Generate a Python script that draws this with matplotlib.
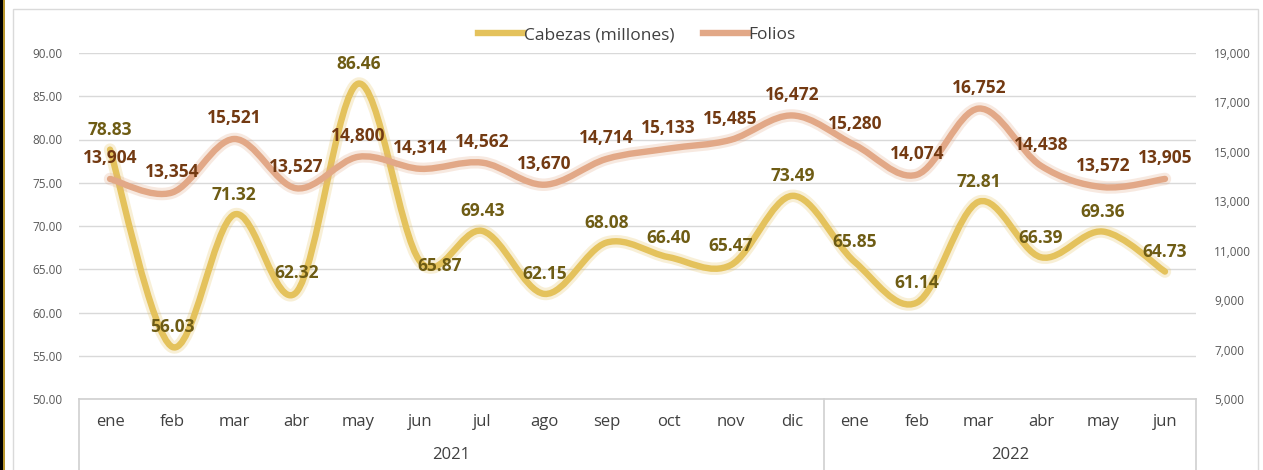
import numpy as np
import matplotlib
matplotlib.use("Agg")
import matplotlib.pyplot as plt
import matplotlib.patheffects as pe
from matplotlib.path import Path
from matplotlib.patches import PathPatch, Rectangle
from matplotlib.lines import Line2D
from matplotlib.ticker import FuncFormatter

plt.rcParams['font.family'] = ['Open Sans', 'DejaVu Sans']

# data
meses = ['ene', 'feb', 'mar', 'abr', 'may', 'jun', 'jul', 'ago', 'sep', 'oct', 'nov', 'dic',
         'ene', 'feb', 'mar', 'abr', 'may', 'jun']
anios = ['2021', '2022']
meses_por_anio = [12, 6]
cabezas = [78.83, 56.03, 71.32, 62.32, 86.46, 65.87, 69.43, 62.15, 68.08, 66.40, 65.47, 73.49,
           65.85, 61.14, 72.81, 66.39, 69.36, 64.73]
folios = [13904, 13354, 15521, 13527, 14800, 14314, 14562, 13670, 14714, 15133, 15485, 16472,
          15280, 14074, 16752, 14438, 13572, 13905]

c_cab = '#E4C25C'
c_fol = '#E2A887'
c_cab_txt = '#6E5C14'
c_fol_txt = '#733A12'


def smooth_path(x, y):
    # Catmull-Rom style bezier through every point (like Excel "smoothed line")
    x = np.asarray(x, float)
    y = np.asarray(y, float)
    n = len(x)
    verts = [(x[0], y[0])]
    codes = [Path.MOVETO]
    for i in range(n - 1):
        p0 = np.array([x[max(i - 1, 0)], y[max(i - 1, 0)]])
        p1 = np.array([x[i], y[i]])
        p2 = np.array([x[i + 1], y[i + 1]])
        p3 = np.array([x[min(i + 2, n - 1)], y[min(i + 2, n - 1)]])
        c1 = p1 + (p2 - p0) / 6.0
        c2 = p2 - (p3 - p1) / 6.0
        verts += [tuple(c1), tuple(c2), tuple(p2)]
        codes += [Path.CURVE4] * 3
    return Path(verts, codes)


fig = plt.figure(figsize=(12.63, 4.70), dpi=100)

# card border and left strip
fig.patches.append(Rectangle((13 / 1263, -0.02), 1245 / 1263, 1.0, transform=fig.transFigure,
                             fill=False, edgecolor='#DADADA', linewidth=1))
fig.patches.append(Rectangle((0, 0), 3 / 1263, 1, transform=fig.transFigure,
                             facecolor='black', edgecolor='none'))
fig.patches.append(Rectangle((3 / 1263, 0), 1.5 / 1263, 1, transform=fig.transFigure,
                             facecolor='#B8962E', edgecolor='none'))

ax = fig.add_axes([79 / 1263, 71 / 470, 1117 / 1263, 346 / 470])
ax2 = ax.twinx()

x = np.arange(len(meses))
ax.set_xlim(-0.5, len(meses) - 0.5)
ax.set_ylim(50, 90)
ax2.set_ylim(5000, 19000)
ax.set_yticks(np.arange(50, 91, 5))
ax2.set_yticks(np.arange(5000, 19001, 2000))
ax.yaxis.set_major_formatter(FuncFormatter(lambda v, p: f'{v:.2f}'))
ax2.yaxis.set_major_formatter(FuncFormatter(lambda v, p: f'{v:,.0f}'))
for a in (ax, ax2):
    for s in a.spines.values():
        s.set_visible(False)
    a.tick_params(axis='y', length=0, labelsize=8.5, labelcolor='#595959')
ax.tick_params(axis='y', pad=12)
ax2.tick_params(axis='y', pad=13)
ax.set_xticks([])
ax.grid(axis='y', color='#D9D9D9', linewidth=1)
ax.set_axisbelow(True)

# lines
glow = lambda c: [pe.Stroke(linewidth=9, foreground=c, alpha=0.25), pe.Normal()]
p_cab = PathPatch(smooth_path(x, cabezas), facecolor='none', edgecolor=c_cab, linewidth=4.6,
                  capstyle='round', joinstyle='round', path_effects=glow(c_cab), zorder=3)
ax.add_patch(p_cab)
p_fol = PathPatch(smooth_path(x, folios), facecolor='none', edgecolor=c_fol, linewidth=4.6,
                  capstyle='round', joinstyle='round', path_effects=glow(c_fol), zorder=3)
ax2.add_patch(p_fol)

# data labels
cab_off = [(0, 14)] * len(cabezas)
cab_off[5] = (14, -3)
for i, v in enumerate(cabezas):
    ax.annotate(f'{v:.2f}', (x[i], v), xytext=cab_off[i], textcoords='offset points',
                ha='center', va='center', fontsize=12.5, fontweight='bold', color=c_cab_txt, zorder=5)
for i, v in enumerate(folios):
    ax2.annotate(f'{v:,.0f}', (x[i], v), xytext=(0, 15), textcoords='offset points',
                 ha='center', va='center', fontsize=12.5, fontweight='bold', color=c_fol_txt, zorder=5)

# category axis (two levels)
tr = ax.get_xaxis_transform()
px = 1 / 346
ax.plot([-0.5, len(meses) - 0.5], [0, 0], transform=tr, color='#D0D0D0', lw=1.2, clip_on=False)
bounds = np.concatenate([[0], np.cumsum(meses_por_anio)]) - 0.5
for b in bounds:
    ax.plot([b, b], [0, -72 * px], transform=tr, color='#D0D0D0', lw=1.2, clip_on=False)
for i, m in enumerate(meses):
    ax.text(x[i], -23 * px, m, transform=tr, ha='center', va='center', fontsize=12, color='#404040')
for k, a in enumerate(anios):
    ax.text((bounds[k] + bounds[k + 1]) / 2, -56 * px, a, transform=tr, ha='center', va='center',
            fontsize=12, color='#404040')

# legend
handles = [Line2D([], [], color=c_cab, lw=4.6), Line2D([], [], color=c_fol, lw=4.6)]
fig.legend(handles, ['Cabezas (millones)', 'Folios'], loc='center', bbox_to_anchor=(637 / 1263, 1 - 35 / 470),
           ncol=2, frameon=False, fontsize=12.5, handlelength=2.6, handletextpad=0.05, columnspacing=1.6,
           labelcolor='#404040')

fig.savefig('out.png', dpi=100, facecolor='white')
